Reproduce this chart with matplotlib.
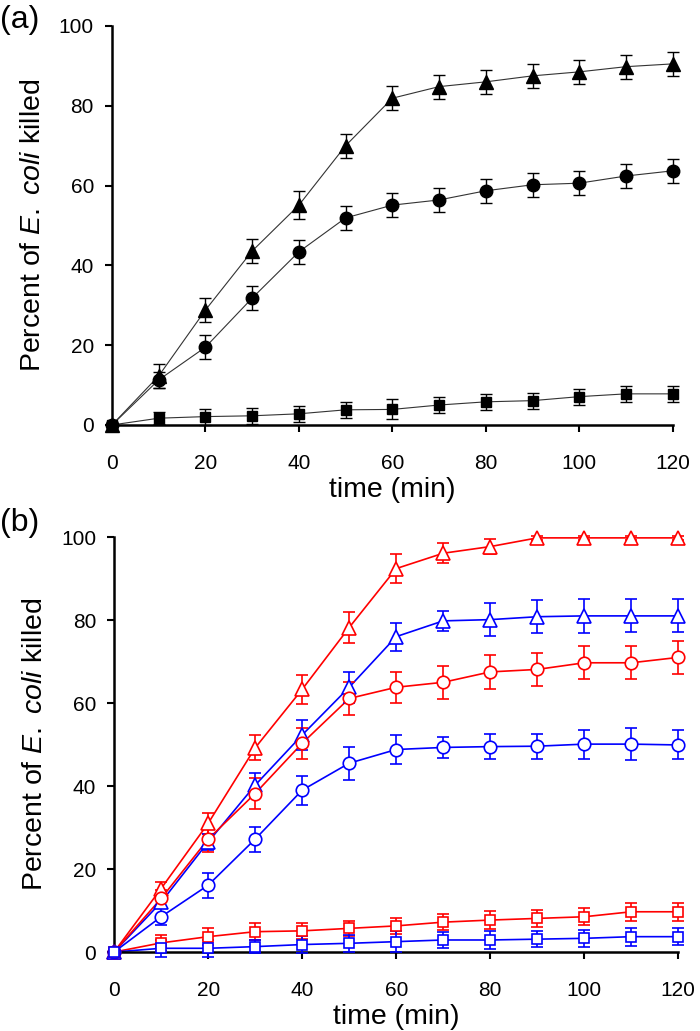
import numpy as np
import matplotlib
matplotlib.use("Agg")
import matplotlib.pyplot as plt

plt.rcParams['font.family'] = ['Liberation Sans', 'DejaVu Sans']
plt.rcParams['mathtext.fontset'] = 'custom'
plt.rcParams['mathtext.rm'] = 'Liberation Sans'
plt.rcParams['mathtext.it'] = 'Liberation Sans:italic'

# time points (min)
time = [0, 10, 20, 30, 40, 50, 60, 70, 80, 90, 100, 110, 120]

# panel (a) - filled symbols
a_tri = [0, 12.3, 28.8, 43.6, 55.1, 70.0, 81.9, 84.8, 86.0, 87.5, 88.5, 89.8, 90.5]
a_tri_err = [0, 3, 3, 3, 3.5, 3, 3, 3, 3, 3, 3, 3, 3]
a_cir = [0, 11.3, 19.5, 31.8, 43.4, 51.9, 55.1, 56.4, 58.7, 60.2, 60.6, 62.4, 63.7]
a_cir_err = [0, 2, 3, 3, 3, 3, 3, 3, 3, 3, 3, 3, 3]
a_sq = [0, 1.7, 2.1, 2.3, 2.8, 3.8, 3.9, 5.0, 5.8, 6.1, 7.1, 7.8, 7.8]
a_sq_err = [0, 1.5, 2, 2, 2, 2, 2.5, 2, 2, 2, 2, 2, 2]

# panel (b) - open symbols, red and blue
b_red_tri = [0, 15.3, 31.0, 49.2, 63.3, 78.2, 92.4, 96.1, 97.7, 99.8, 99.8, 99.8, 99.8]
b_red_tri_err = [0, 1.5, 2.5, 3, 3.5, 3.8, 3.4, 2.4, 1.8, 0.5, 0.5, 0.5, 0.5]
b_blue_tri = [0, 12.0, 26.5, 40.2, 52.3, 63.8, 76.0, 79.8, 80.1, 80.8, 81.0, 81.0, 81.0]
b_blue_tri_err = [0, 1.5, 2, 3, 3.5, 3.8, 3.4, 2.4, 4, 4, 4.1, 4, 4]
b_red_cir = [0, 12.9, 27.2, 38.2, 50.3, 61.1, 63.8, 65.0, 67.5, 68.1, 69.7, 69.7, 71.0]
b_red_cir_err = [0, 2, 3, 3.8, 3.8, 4, 3.8, 4, 4, 4, 4, 4, 4]
b_blue_cir = [0, 8.5, 16.1, 27.2, 39.0, 45.5, 48.8, 49.3, 49.5, 49.6, 50.1, 50.1, 49.9]
b_blue_cir_err = [0, 2, 3, 3, 3.5, 4, 3.5, 2.5, 3, 3, 3.5, 3.8, 3.5]
b_red_sq = [0, 2.2, 3.7, 4.9, 5.1, 5.7, 6.3, 7.2, 7.7, 8.1, 8.5, 9.7, 9.7]
b_red_sq_err = [0, 2, 2, 2, 2, 1.8, 2, 2, 2.2, 2, 2, 2.2, 2.2]
b_blue_sq = [0, 0.9, 0.9, 1.3, 1.8, 2.1, 2.5, 2.9, 2.9, 3.1, 3.3, 3.7, 3.7]
b_blue_sq_err = [0, 2, 2, 1.5, 2, 2, 2.5, 2, 2.2, 2, 2, 2.2, 2]

ylabel = r'Percent of $\mathit{E.}$ $\mathit{coli}$ killed'

fig = plt.figure(figsize=(7, 10.31), dpi=100)
ax1 = fig.add_axes([0.16, 0.5878, 0.801, 0.387])
ax2 = fig.add_axes([0.163, 0.0766, 0.806, 0.4025])


def style(ax):
    ax.set_xlim(0, 120)
    ax.set_ylim(0, 100)
    ax.set_xticks(range(0, 121, 20))
    ax.set_yticks(range(0, 101, 20))
    for s in ['top', 'right']:
        ax.spines[s].set_visible(False)
    for s in ['left', 'bottom']:
        ax.spines[s].set_linewidth(1.8)
    ax.tick_params(direction='out', length=5, width=1.5, labelsize=15)
    ax.tick_params(axis='x', pad=16)
    ax.tick_params(axis='y', pad=8)
    ax.set_xlabel('time (min)', fontsize=20.5, labelpad=3)
    ax.set_ylabel(ylabel, fontsize=20.5, labelpad=9)


# (a)
for y, err, m, ms in [(a_tri, a_tri_err, '^', 10.5),
                      (a_cir, a_cir_err, 'o', 9),
                      (a_sq, a_sq_err, 's', 6.5)]:
    ax1.plot(time, y, color='#333333', lw=0.8, zorder=2, clip_on=False)
    ax1.errorbar(time, y, yerr=err, fmt=m, color='black', ms=ms, elinewidth=1,
                 capsize=4, capthick=1, zorder=3, clip_on=False)
style(ax1)

# (b)
series_b = [(b_red_tri, b_red_tri_err, '^', 'red', 10),
            (b_blue_tri, b_blue_tri_err, '^', 'blue', 10),
            (b_red_cir, b_red_cir_err, 'o', 'red', 9),
            (b_blue_cir, b_blue_cir_err, 'o', 'blue', 9),
            (b_red_sq, b_red_sq_err, 's', 'red', 7),
            (b_blue_sq, b_blue_sq_err, 's', 'blue', 7)]
for y, err, m, c, ms in series_b:
    ax2.plot(time, y, color=c, lw=1.2, zorder=2, clip_on=False)
    ax2.errorbar(time, y, yerr=err, fmt=m, color=c, mfc='white', mec=c, mew=1.2,
                 ms=ms, elinewidth=1.2, capsize=4, capthick=1.2, zorder=3,
                 clip_on=False)
style(ax2)

fig.text(0.0, 0.981, '(a)', fontsize=23, va='center', ha='left')
fig.text(0.0, 0.4925, '(b)', fontsize=23, va='center', ha='left')

fig.savefig('out.png', dpi=100)
